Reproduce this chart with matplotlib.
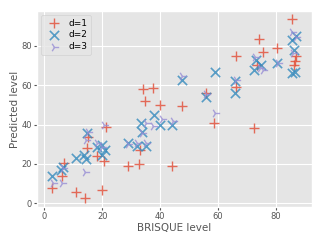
import matplotlib
matplotlib.use("Agg")
import matplotlib.pyplot as plt

plt.style.use("ggplot")

d1_x = [2.8, 6.1, 6.7, 10.8, 14.0, 14.8, 15.1, 18.1, 19.8, 20.6, 21.3, 29.0, 32.6, 33.1,
        34.2, 37.7, 34.9, 40.0, 44.1, 47.4, 56.0, 58.6, 66.1, 66.1, 72.4, 73.3, 74.1,
        75.6, 80.4, 85.4, 86.2, 86.9, 86.5]
d1_y = [8.0, 13.9, 20.6, 5.9, 3.0, 28.3, 33.8, 24.2, 6.8, 21.5, 38.9, 19.1, 20.1, 27.2,
        57.9, 58.4, 52.1, 49.7, 19.1, 49.4, 56.2, 40.6, 74.8, 58.9, 38.1, 70.2, 83.2,
        76.5, 78.7, 93.4, 70.2, 74.5, 72.0]

d2_x = [2.8, 5.9, 6.6, 10.8, 13.8, 14.4, 14.8, 18.1, 19.8, 20.1, 21.0, 29.0, 33.3, 33.8,
        32.2, 35.0, 37.9, 40.0, 44.1, 47.4, 56.0, 58.9, 65.9, 65.9, 72.4, 73.0, 74.7,
        80.2, 85.7, 86.9, 86.3, 85.7, 86.7]
d2_y = [14.0, 16.9, 18.6, 22.8, 24.5, 22.3, 35.5, 28.8, 29.6, 24.4, 27.1, 30.5, 40.9, 36.4,
        29.3, 29.1, 44.8, 39.6, 39.8, 62.6, 54.1, 66.8, 61.8, 56.2, 67.7, 72.8, 70.2,
        71.1, 82.9, 84.9, 77.8, 66.0, 66.8]

d3_x = [3.1, 6.0, 6.5, 14.0, 14.4, 15.2, 18.3, 20.6, 19.9, 28.8, 32.1, 33.6, 35.3, 35.0,
        37.6, 40.6, 44.3, 47.4, 56.0, 59.0, 66.2, 72.9, 74.5, 75.6, 80.8, 85.6, 85.9, 86.9]
d3_y = [10.5, 10.2, 18.0, 16.1, 32.1, 36.4, 30.5, 39.8, 28.8, 30.1, 30.5, 35.9, 30.5, 40.9,
        39.3, 42.6, 42.0, 64.6, 55.5, 45.7, 62.6, 74.4, 68.5, 67.7, 71.4, 86.8, 76.1, 84.3]

labels = ["d=1", "d=2", "d=3"]

fig = plt.figure(figsize=(3.23, 2.42), dpi=100)
ax = fig.add_axes([0.1136, 0.143, 0.851, 0.813])

ax.scatter(d1_x, d1_y, marker="+", s=45, color="#E24A33", linewidths=1.0, alpha=0.8, label=labels[0])
ax.scatter(d2_x, d2_y, marker="x", s=45, color="#348ABD", linewidths=1.2, alpha=0.8, label=labels[1])
ax.scatter(d3_x, d3_y, marker="4", s=45, color="#988ED5", linewidths=1.0, alpha=0.8, label=labels[2])

ax.set_xlim(-2.6, 92.3)
ax.set_ylim(-2.0, 97.7)
ax.set_xticks([0, 20, 40, 60, 80])
ax.set_yticks([0, 20, 40, 60, 80])
ax.tick_params(labelsize=6, length=2, pad=1.5)
ax.set_xlabel("BRISQUE level", fontsize=7.5, labelpad=1)
ax.set_ylabel("Predicted level", fontsize=7.5, labelpad=1)

leg = ax.legend(loc="upper left", fontsize=6.5, handletextpad=0.6, borderpad=0.4,
                labelspacing=0.3, markerscale=1.0)

fig.savefig("out.png", dpi=100)
